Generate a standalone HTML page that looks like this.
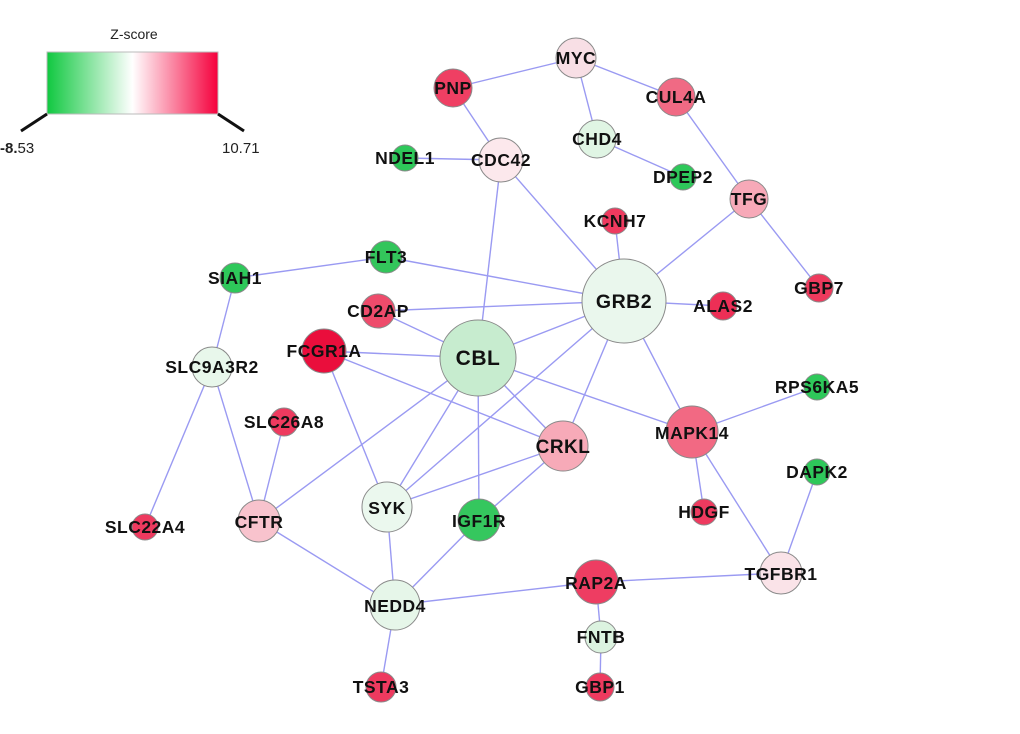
<!DOCTYPE html>
<html><head><style>body{margin:0;background:#fff}svg{display:block}</style></head><body>
<svg width="1020" height="734" viewBox="0 0 1020 734" xmlns="http://www.w3.org/2000/svg">
<defs><linearGradient id="g" x1="0" x2="1"><stop offset="0" stop-color="#10c840"/><stop offset="0.5" stop-color="#ffffff"/><stop offset="1" stop-color="#f5003c"/></linearGradient></defs>
<text x="134" y="39" font-family="Liberation Sans,sans-serif" font-size="14" text-anchor="middle" fill="#222">Z-score</text>
<rect x="47" y="52" width="171" height="62" fill="url(#g)" stroke="#bbb"/>
<line x1="47" y1="114" x2="21" y2="131" stroke="#111" stroke-width="3"/>
<line x1="218" y1="114" x2="244" y2="131" stroke="#111" stroke-width="3"/>
<text x="0" y="153" font-family="Liberation Sans,sans-serif" font-size="15" fill="#222"><tspan font-weight="bold">-8.</tspan>53</text>
<text x="222" y="153" font-family="Liberation Sans,sans-serif" font-size="15" fill="#222">10.71</text>
<g stroke="#9a9af2" stroke-width="1.4">
<line x1="576" y1="58" x2="453" y2="88"/><line x1="576" y1="58" x2="676" y2="97"/><line x1="576" y1="58" x2="597" y2="139"/>
<line x1="597" y1="139" x2="683" y2="177"/><line x1="676" y1="97" x2="749" y2="199"/><line x1="749" y1="199" x2="819" y2="288"/>
<line x1="749" y1="199" x2="624" y2="301"/><line x1="453" y1="88" x2="501" y2="160"/><line x1="405" y1="158" x2="501" y2="160"/>
<line x1="501" y1="160" x2="624" y2="301"/><line x1="501" y1="160" x2="478" y2="358"/><line x1="615" y1="221" x2="624" y2="301"/>
<line x1="235" y1="278" x2="386" y2="257"/><line x1="386" y1="257" x2="624" y2="301"/><line x1="235" y1="278" x2="212" y2="367"/>
<line x1="378" y1="311" x2="624" y2="301"/><line x1="378" y1="311" x2="478" y2="358"/><line x1="624" y1="301" x2="723" y2="306"/>
<line x1="324" y1="351" x2="478" y2="358"/><line x1="324" y1="351" x2="563" y2="446"/><line x1="324" y1="351" x2="387" y2="507"/>
<line x1="478" y1="358" x2="624" y2="301"/><line x1="624" y1="301" x2="692" y2="432"/><line x1="624" y1="301" x2="563" y2="446"/>
<line x1="624" y1="301" x2="387" y2="507"/><line x1="478" y1="358" x2="259" y2="521"/><line x1="478" y1="358" x2="387" y2="507"/>
<line x1="478" y1="358" x2="479" y2="520"/><line x1="478" y1="358" x2="563" y2="446"/><line x1="478" y1="358" x2="692" y2="432"/>
<line x1="563" y1="446" x2="387" y2="507"/><line x1="563" y1="446" x2="479" y2="520"/><line x1="212" y1="367" x2="259" y2="521"/>
<line x1="212" y1="367" x2="145" y2="527"/><line x1="284" y1="422" x2="259" y2="521"/><line x1="259" y1="521" x2="395" y2="605"/>
<line x1="387" y1="507" x2="395" y2="605"/><line x1="479" y1="520" x2="395" y2="605"/><line x1="395" y1="605" x2="596" y2="582"/>
<line x1="596" y1="582" x2="781" y2="573"/><line x1="596" y1="582" x2="601" y2="637"/><line x1="601" y1="637" x2="600" y2="687"/>
<line x1="395" y1="605" x2="381" y2="687"/><line x1="692" y1="432" x2="817" y2="387"/><line x1="692" y1="432" x2="704" y2="512"/>
<line x1="692" y1="432" x2="781" y2="573"/><line x1="817" y1="472" x2="781" y2="573"/>
</g>
<g stroke="#8a8a8a" stroke-width="1">
<circle cx="576" cy="58" r="20" fill="#f8dfe5"/><circle cx="453" cy="88" r="19" fill="#ef3f63"/><circle cx="676" cy="97" r="19" fill="#f06a84"/>
<circle cx="597" cy="139" r="19" fill="#e0f5e4"/><circle cx="405" cy="158" r="13" fill="#2ec85a"/><circle cx="501" cy="160" r="22" fill="#fce8ec"/>
<circle cx="683" cy="177" r="13" fill="#2ec85a"/><circle cx="749" cy="199" r="19" fill="#f7a9b8"/><circle cx="615" cy="221" r="13" fill="#ee3a5f"/>
<circle cx="386" cy="257" r="16" fill="#33c55b"/><circle cx="235" cy="278" r="15" fill="#2ec85a"/><circle cx="624" cy="301" r="42" fill="#eaf7ed"/>
<circle cx="378" cy="311" r="17" fill="#ee4b6b"/><circle cx="723" cy="306" r="14" fill="#ed2f56"/><circle cx="819" cy="288" r="14" fill="#ee3a5d"/>
<circle cx="324" cy="351" r="22" fill="#ea0e3c"/><circle cx="478" cy="358" r="38" fill="#c7eccf"/><circle cx="212" cy="367" r="20" fill="#e8f7eb"/>
<circle cx="817" cy="387" r="13" fill="#2ec85a"/><circle cx="284" cy="422" r="14" fill="#ee3a5f"/><circle cx="563" cy="446" r="25" fill="#f7aab8"/>
<circle cx="692" cy="432" r="26" fill="#f26983"/><circle cx="817" cy="472" r="13" fill="#2ec85a"/><circle cx="387" cy="507" r="25" fill="#ebf8ee"/>
<circle cx="479" cy="520" r="21" fill="#35c75e"/><circle cx="259" cy="521" r="21" fill="#f8c3cd"/><circle cx="145" cy="527" r="13" fill="#ee3a5f"/>
<circle cx="704" cy="512" r="13" fill="#ee3a5f"/><circle cx="781" cy="573" r="21" fill="#fae3e8"/><circle cx="596" cy="582" r="22" fill="#ee3d62"/>
<circle cx="395" cy="605" r="25" fill="#e6f6e9"/><circle cx="601" cy="637" r="16" fill="#dcf3e0"/><circle cx="381" cy="687" r="15" fill="#ee3a5f"/>
<circle cx="600" cy="687" r="14" fill="#ee3a5f"/>
</g>
<g font-family="Liberation Sans,sans-serif" font-size="17.5" letter-spacing="0.5" font-weight="bold" fill="#111" text-anchor="middle">
<text x="576" y="64">MYC</text><text x="453" y="94">PNP</text><text x="676" y="103">CUL4A</text><text x="597" y="145">CHD4</text>
<text x="405" y="164">NDEL1</text><text x="501" y="166">CDC42</text><text x="683" y="183">DPEP2</text><text x="749" y="205">TFG</text>
<text x="615" y="227">KCNH7</text><text x="386" y="263">FLT3</text><text x="235" y="284">SIAH1</text><text x="624" y="308" font-size="19.5">GRB2</text>
<text x="378" y="317">CD2AP</text><text x="723" y="312">ALAS2</text><text x="819" y="294">GBP7</text><text x="324" y="357">FCGR1A</text>
<text x="478" y="365" font-size="21">CBL</text><text x="212" y="373">SLC9A3R2</text><text x="817" y="393">RPS6KA5</text><text x="284" y="428">SLC26A8</text>
<text x="563" y="453" font-size="19">CRKL</text><text x="692" y="439">MAPK14</text><text x="817" y="478">DAPK2</text><text x="387" y="514">SYK</text>
<text x="479" y="527">IGF1R</text><text x="259" y="528">CFTR</text><text x="145" y="533">SLC22A4</text><text x="704" y="518">HDGF</text>
<text x="781" y="580">TGFBR1</text><text x="596" y="589">RAP2A</text><text x="395" y="612">NEDD4</text><text x="601" y="643">FNTB</text>
<text x="381" y="693">TSTA3</text><text x="600" y="693">GBP1</text>
</g>
</svg>
</body></html>
